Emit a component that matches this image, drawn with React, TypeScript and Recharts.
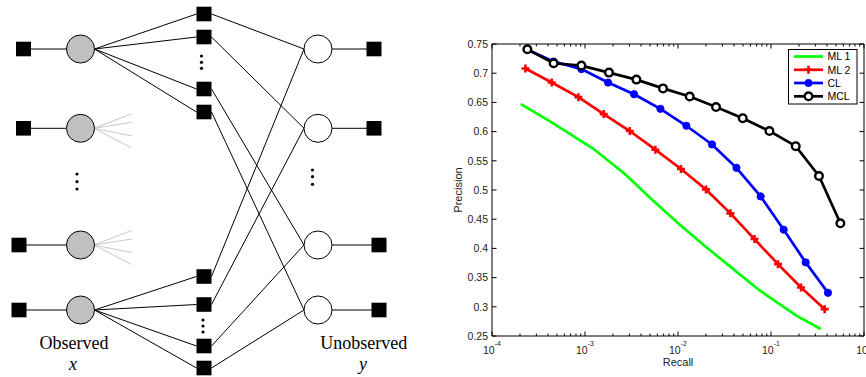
import React from 'react';
import { LineChart, Line, XAxis, YAxis, Legend, Label } from 'recharts';

// ---------------- data ----------------
const ml1Recall = [2.04e-4, 4.17e-4, 1.22e-3, 2.67e-3, 5.38e-3, 0.0104, 0.0202, 0.039, 0.0755, 0.1875, 0.343];
const ml1Precision = [0.647, 0.618, 0.571, 0.528, 0.482, 0.441, 0.402, 0.365, 0.328, 0.285, 0.262];

const ml2Recall = [2.29e-4, 4.39e-4, 8.49e-4, 1.59e-3, 3.03e-3, 5.71e-3, 0.01077, 0.02, 0.0366, 0.0664, 0.1189, 0.2104, 0.378];
const ml2Precision = [0.708, 0.684, 0.659, 0.63, 0.601, 0.569, 0.536, 0.501, 0.46, 0.416, 0.373, 0.333, 0.296];

const clRecall = [2.4e-4, 4.6e-4, 9.14e-4, 1.77e-3, 3.37e-3, 6.47e-3, 0.0123, 0.0232, 0.0425, 0.0774, 0.137, 0.236, 0.41];
const clPrecision = [0.74, 0.72, 0.707, 0.684, 0.664, 0.639, 0.61, 0.578, 0.538, 0.489, 0.432, 0.376, 0.324];

const mclRecall = [2.4e-4, 4.6e-4, 9.14e-4, 1.81e-3, 3.57e-3, 6.9e-3, 0.01336, 0.02565, 0.0497, 0.0962, 0.1845, 0.328, 0.557];
const mclPrecision = [0.741, 0.717, 0.713, 0.701, 0.689, 0.674, 0.66, 0.642, 0.623, 0.601, 0.575, 0.524, 0.443];

const seriesNames = ['ML 1', 'ML 2', 'CL', 'MCL'];
const seriesColors = ['#00ff00', '#ff0000', '#0000ff', '#000000'];

const yTicks = [0.25, 0.3, 0.35, 0.4, 0.45, 0.5, 0.55, 0.6, 0.65, 0.7, 0.75];
const yTickLabels = ['0.25', '0.3', '0.35', '0.4', '0.45', '0.5', '0.55', '0.6', '0.65', '0.7', '0.75'];
const xMajorTicks = [1e-4, 1e-3, 1e-2, 1e-1, 1];
const xMajorExponents = ['-4', '-3', '-2', '-1', '0'];
const xMinorMultipliers = [2, 3, 4, 5, 6, 7, 8, 9];

const xMinorTicks: number[] = [];
xMajorTicks.slice(0, -1).forEach((d) => xMinorMultipliers.forEach((m) => xMinorTicks.push(m * d)));
const xAllTicks = [...xMajorTicks, ...xMinorTicks].sort((a, b) => a - b);

const toPoints = (rs: number[], ps: number[]) => rs.map((r, i) => ({ r, p: ps[i] }));
const ml1Data = toPoints(ml1Recall, ml1Precision);
const ml2Data = toPoints(ml2Recall, ml2Precision);
const clData = toPoints(clRecall, clPrecision);
const mclData = toPoints(mclRecall, mclPrecision);

// ---------------- diagram layout ----------------
const obsSquareX = [23.5, 23.5, 19, 19];
const rowY = [49, 128.3, 245, 310];
const fanRows = [1, 2];
const fanOffsets = [-14.5, -6, 7.5, 19.5];
const obsCx = 80.5;
const nodeR = 14;
const factorCx = 204;
const topFactorY = [14, 37, 89, 112];
const bottomFactorY = [276.5, 304.5, 346, 368];
const unobsCx = 318;
const unobsSquareX = [374, 374, 379, 379];
const obsDotsY = [174, 181.7, 189];
const topFactorDotsY = [56, 62.3, 68.3];
const bottomFactorDotsY = [320, 326, 332];
const unobsDotsY = [170, 176.7, 184.3];

const FONT = '"Liberation Sans", Arial, Helvetica, sans-serif';
const SERIF = '"Liberation Serif", "Times New Roman", serif';

const Diagram = () => {
  const sq = (cx: number, cy: number, key: string) => (
    <rect key={key} x={cx - 7.5} y={cy - 7.3} width={15} height={14.6} fill="#000" />
  );
  const dot = (cx: number, cy: number, key: string) => <circle key={key} cx={cx} cy={cy} r={1.6} fill="#000" />;
  return (
    <svg width={440} height={377} style={{ position: 'absolute', left: 0, top: 0 }}>
      {/* observed rows */}
      {rowY.map((y, i) => (
        <line key={'ol' + i} x1={obsSquareX[i]} y1={y} x2={obsCx - nodeR} y2={y} stroke="#000" strokeWidth={1} />
      ))}
      {fanRows.map((ri) =>
        fanOffsets.map((d, j) => (
          <line key={'fan' + ri + j} x1={obsCx + nodeR - 0.5} y1={rowY[ri]} x2={131.5} y2={rowY[ri] + d} stroke="#c8c8c8" strokeWidth={1} />
        ))
      )}
      {topFactorY.map((y, i) => (
        <line key={'tf' + i} x1={obsCx + nodeR} y1={rowY[0]} x2={factorCx - 7.5} y2={y} stroke="#000" strokeWidth={1} />
      ))}
      {bottomFactorY.map((y, i) => (
        <line key={'bf' + i} x1={obsCx + nodeR} y1={rowY[3]} x2={factorCx - 7.5} y2={y} stroke="#000" strokeWidth={1} />
      ))}
      {topFactorY.map((y, i) => (
        <line key={'tu' + i} x1={factorCx + 7.5} y1={y} x2={unobsCx - nodeR} y2={rowY[i]} stroke="#000" strokeWidth={1} />
      ))}
      {bottomFactorY.map((y, i) => (
        <line key={'bu' + i} x1={factorCx + 7.5} y1={y} x2={unobsCx - nodeR} y2={rowY[i]} stroke="#000" strokeWidth={1} />
      ))}
      {rowY.map((y, i) => (
        <line key={'ul' + i} x1={unobsCx + nodeR} y1={y} x2={unobsSquareX[i]} y2={y} stroke="#000" strokeWidth={1} />
      ))}
      {rowY.map((y, i) => sq(obsSquareX[i], y, 'os' + i))}
      {rowY.map((y, i) => (
        <circle key={'oc' + i} cx={obsCx} cy={y} r={nodeR} fill="#c0c0c0" stroke="#000" strokeWidth={1} />
      ))}
      {topFactorY.map((y, i) => sq(factorCx, y, 'tfs' + i))}
      {bottomFactorY.map((y, i) => sq(factorCx, y, 'bfs' + i))}
      {rowY.map((y, i) => (
        <circle key={'uc' + i} cx={unobsCx} cy={y} r={nodeR} fill="#fff" stroke="#000" strokeWidth={1} />
      ))}
      {rowY.map((y, i) => sq(unobsSquareX[i], y, 'us' + i))}
      {obsDotsY.map((y, i) => dot(77, y, 'od' + i))}
      {topFactorDotsY.map((y, i) => dot(201.5, y, 'td' + i))}
      {bottomFactorDotsY.map((y, i) => dot(203, y, 'bd' + i))}
      {unobsDotsY.map((y, i) => dot(312.5, y, 'ud' + i))}
      <text x={74} y={349} textAnchor="middle" fontFamily={SERIF} fontSize={18} fill="#000">Observed</text>
      <text x={73} y={370} textAnchor="middle" fontFamily={SERIF} fontSize={18} fontStyle="italic" fill="#000">x</text>
      <text x={363.7} y={349} textAnchor="middle" fontFamily={SERIF} fontSize={18} fill="#000">Unobserved</text>
      <text x={363} y={370} textAnchor="middle" fontFamily={SERIF} fontSize={18} fontStyle="italic" fill="#000">y</text>
    </svg>
  );
};

// ---------------- chart helpers ----------------
const isMajor = (v: number) => {
  const l = Math.log10(v);
  return Math.abs(l - Math.round(l)) < 1e-9;
};

const BottomTick = (props: any) => {
  const { x, y, payload } = props;
  const v = payload.value;
  const major = isMajor(v);
  const idx = xMajorTicks.findIndex((t) => Math.abs(Math.log10(t) - Math.log10(v)) < 1e-9);
  return (
    <g>
      <line x1={x} x2={x} y1={y} y2={y - (major ? 4.5 : 2.5)} stroke="#000" strokeWidth={1} />
      {major && (
        <text x={x} y={y + 17.5} textAnchor="middle" fontFamily={FONT} fontSize={10.5} fill="#222">
          <tspan>10</tspan>
          <tspan dy={-7.5} fontSize={7}>{xMajorExponents[idx]}</tspan>
        </text>
      )}
    </g>
  );
};

const TopTick = (props: any) => {
  const { x, y, payload } = props;
  const major = isMajor(payload.value);
  return <line x1={x} x2={x} y1={y} y2={y + (major ? 4.5 : 2.5)} stroke="#000" strokeWidth={1} />;
};

const LeftTick = (props: any) => {
  const { x, y, payload, index } = props;
  const i = yTicks.findIndex((t) => Math.abs(t - payload.value) < 1e-9);
  return (
    <g>
      <line x1={x} x2={x + 4.5} y1={y} y2={y} stroke="#000" strokeWidth={1} />
      <text x={x - 4} y={y} dy="0.36em" textAnchor="end" fontFamily={FONT} fontSize={10.5} fill="#222">
        {yTickLabels[i >= 0 ? i : index]}
      </text>
    </g>
  );
};

const RightTick = (props: any) => {
  const { x, y } = props;
  return <line x1={x} x2={x - 4.5} y1={y} y2={y} stroke="#000" strokeWidth={1} />;
};

const PlusDot = (props: any) => {
  const { cx, cy, index } = props;
  if (cx == null || cy == null) return <g key={index} />;
  const a = 4;
  return (
    <path
      key={index}
      d={`M${cx - a},${cy}H${cx + a}M${cx},${cy - a}V${cy + a}`}
      stroke="#ff0000"
      strokeWidth={2.6}
      fill="none"
    />
  );
};

const LegendBox = () => {
  const rowYs = [7.5, 20.8, 34, 47.3];
  return (
    <svg width={70} height={56} style={{ display: 'block' }}>
      <rect x={0.5} y={0.5} width={68.5} height={54.5} fill="#fff" stroke="#000" strokeWidth={1} />
      {seriesNames.map((name, i) => {
        const y = rowYs[i];
        const c = seriesColors[i];
        return (
          <g key={name}>
            <line x1={6} x2={35} y1={y} y2={y} stroke={c} strokeWidth={2.7} />
            {i === 1 && <path d={`M${16.5},${y}H${24.5}M${20.5},${y - 4}V${y + 4}`} stroke={c} strokeWidth={2.6} />}
            {i === 2 && <circle cx={20.5} cy={y} r={3.6} fill={c} stroke={c} />}
            {i === 3 && <circle cx={20.5} cy={y} r={3.8} fill="#fff" stroke={c} strokeWidth={2.4} />}
            <text x={39.5} y={y} dy="0.36em" fontFamily={FONT} fontSize={10.5} fill="#000">
              {name}
            </text>
          </g>
        );
      })}
    </svg>
  );
};

const PlotChart = () => (
  <div style={{ position: 'absolute', left: 440, top: 0 }}>
    <LineChart width={440} height={377} margin={{ top: 43, right: 15, bottom: 1, left: 12 }}>
      <XAxis
        xAxisId="b"
        dataKey="r"
        type="number"
        scale="log"
        domain={[1e-4, 1]}
        allowDataOverflow
        ticks={xAllTicks}
        interval={0}
        tickSize={0}
        tickMargin={0}
        tickLine={false}
        axisLine={{ stroke: '#000', strokeWidth: 1 }}
        height={40}
        tick={<BottomTick />}
      >
        <Label
          content={(p: any) => {
            const vb = p.viewBox || {};
            return (
              <text x={vb.x + vb.width / 2} y={365.5} textAnchor="middle" fontFamily={FONT} fontSize={11} fill="#222">
                Recall
              </text>
            );
          }}
        />
      </XAxis>
      <XAxis
        xAxisId="t"
        orientation="top"
        dataKey="r"
        type="number"
        scale="log"
        domain={[1e-4, 1]}
        allowDataOverflow
        ticks={xAllTicks}
        interval={0}
        tickSize={0}
        tickMargin={0}
        tickLine={false}
        axisLine={{ stroke: '#000', strokeWidth: 1 }}
        height={1}
        tick={<TopTick />}
      />
      <YAxis
        yAxisId="l"
        type="number"
        domain={[0.25, 0.75]}
        allowDataOverflow
        ticks={yTicks}
        interval={0}
        tickSize={0}
        tickMargin={0}
        tickLine={false}
        axisLine={{ stroke: '#000', strokeWidth: 1 }}
        width={40}
        tick={<LeftTick />}
      >
        <Label
          content={(p: any) => {
            const vb = p.viewBox || {};
            const cy = vb.y + vb.height / 2;
            return (
              <text
                x={18}
                y={cy}
                transform={`rotate(-90 ${18} ${cy})`}
                textAnchor="middle"
                dy="0.36em"
                fontFamily={FONT}
                fontSize={11}
                fill="#222"
              >
                Precision
              </text>
            );
          }}
        />
      </YAxis>
      <YAxis
        yAxisId="rt"
        orientation="right"
        type="number"
        domain={[0.25, 0.75]}
        allowDataOverflow
        ticks={yTicks}
        interval={0}
        tickSize={0}
        tickMargin={0}
        tickLine={false}
        axisLine={{ stroke: '#000', strokeWidth: 1 }}
        width={1}
        tick={<RightTick />}
      />
      <Line
        xAxisId="b"
        yAxisId="l"
        data={ml1Data}
        dataKey="p"
        name={seriesNames[0]}
        stroke={seriesColors[0]}
        strokeWidth={2.7}
        dot={false}
        isAnimationActive={false}
        type="linear"
      />
      <Line
        xAxisId="b"
        yAxisId="l"
        data={ml2Data}
        dataKey="p"
        name={seriesNames[1]}
        stroke={seriesColors[1]}
        strokeWidth={2.7}
        dot={PlusDot}
        isAnimationActive={false}
        type="linear"
      />
      <Line
        xAxisId="b"
        yAxisId="l"
        data={clData}
        dataKey="p"
        name={seriesNames[2]}
        stroke={seriesColors[2]}
        strokeWidth={2.7}
        dot={{ r: 3.6, fill: seriesColors[2], stroke: seriesColors[2], strokeWidth: 1 }}
        isAnimationActive={false}
        type="linear"
      />
      <Line
        xAxisId="b"
        yAxisId="l"
        data={mclData}
        dataKey="p"
        name={seriesNames[3]}
        stroke={seriesColors[3]}
        strokeWidth={2.7}
        dot={{ r: 3.8, fill: '#fff', stroke: seriesColors[3], strokeWidth: 2.4 }}
        isAnimationActive={false}
        type="linear"
      />
      <Legend
        layout="horizontal"
        align="center"
        verticalAlign="middle"
        wrapperStyle={{ position: 'absolute', left: 347.5, top: 48.5, width: 70, height: 56 }}
        content={() => <LegendBox />}
      />
    </LineChart>
  </div>
);

export default function App() {
  return (
    <div
      style={{
        position: 'absolute',
        left: 0,
        top: 0,
        width: 866,
        height: 377,
        overflow: 'hidden',
        background: '#fff',
      }}
    >
      <Diagram />
      <PlotChart />
    </div>
  );
}
